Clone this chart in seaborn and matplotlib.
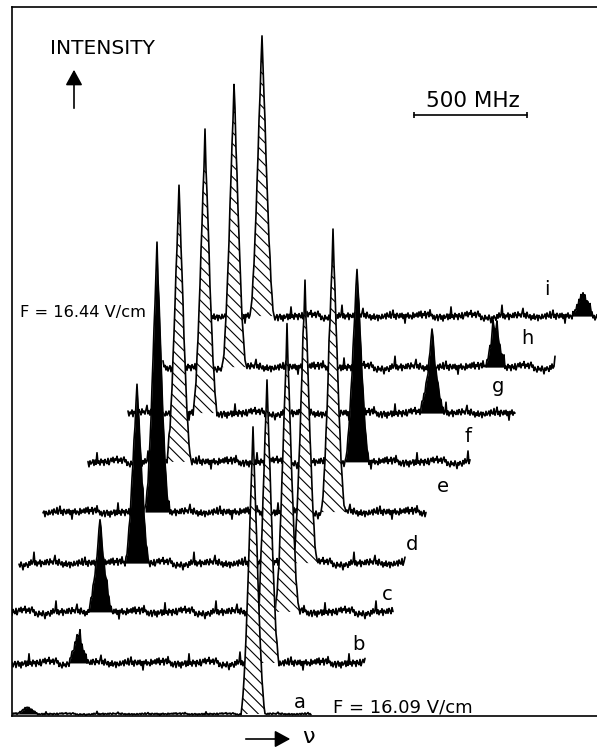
import numpy as np
import pandas as pd
import matplotlib
matplotlib.use("Agg")
import matplotlib.pyplot as plt
import seaborn as sns

# ---------------- data ----------------
traces = ["a", "b", "c", "d", "e", "f", "g", "h", "i"]
# vertical offset of each spectrum baseline (intensity units, hatched peak ~ 100)
offsets = [0.0, 18.1, 36.2, 53.5, 71.6, 89.4, 106.7, 123.0, 141.1]
# frequency span of each recorded trace (MHz, relative)
trace_start = [0, 0, 0, 27, 133, 336, 513, 664, 876]
trace_end = [1327, 1562, 1686, 1739, 1836, 2027, 2226, 2407, 2600]
# hatched resonance
hatched_center = [1066, 1128, 1217, 1297, 1420, 739, 854, 982, 1106]
hatched_height = [102, 101, 101, 100, 100, 99, 99, 100, 100]
# black resonance
black_center = [71, 292, 389, 553, 642, 1527, 1859, 2137, 2527]
black_height = [2.5, 9.9, 33.7, 64.2, 96.5, 69.0, 31.2, 16.0, 7.4]
black_shape = ["broad", "broad", "medium", "sharp", "sharp", "sharp", "medium", "double", "broad"]
noise_scale = [0.3, 1.25, 1.25, 1.25, 1.25, 1.25, 1.25, 1.25, 1.25]
noise_phase = [0, 17, 41, 63, 88, 109, 131, 22, 75]

# line-shape profiles (relative height vs. offset in sample steps)
profiles = {
    "sharp": [1.0, 0.88, 0.78, 0.68, 0.57, 0.46, 0.36, 0.27, 0.19, 0.12, 0.07, 0.03, 0.0],
    "medium": [1.0, 0.85, 0.72, 0.60, 0.50, 0.42, 0.34, 0.27, 0.20, 0.14, 0.08, 0.03, 0.0],
    "broad": [1.0, 0.90, 0.80, 0.70, 0.60, 0.50, 0.40, 0.30, 0.20, 0.12, 0.05, 0.0],
    "double": [0.80, 0.95, 1.0, 0.75, 0.55, 0.45, 0.35, 0.25, 0.15, 0.07, 0.0],
}

# baseline noise pattern (intensity units)
noise = [
    0.9, -0.3, 1.2, 0.0, 1.4, -0.5, 0.7, 0.2, 1.3, -0.6, 0.8, 1.1, -0.2, 1.8, 0.1, 0.5,
    -0.8, 0.2, -1.1, -0.2, 0.4, -1.3, -0.1, 0.5, -0.9, 0.1, -1.4, 0.3, -0.6, -0.2, 0.6, -1.0,
    0.5, -0.7, 2.6, -0.4, 0.3, -0.9, 0.8, -0.2, 0.4, -1.0, 0.7, 0.0, -0.5, 1.0, -0.8, 0.2,
    1.0, 0.1, 1.3, -0.2, 0.9, 0.5, 1.6, -0.3, 0.8, 0.2, 1.1, -0.4, 0.7, 1.4, 0.0, 0.6,
    -1.0, 0.0, -0.7, -1.4, 0.2, -0.8, -0.3, -1.1, 0.3, -0.6, -1.9, -0.2, -0.9, 0.1, -0.5, -1.2,
    0.4, -0.6, 0.9, -0.3, 0.2, 3.1, -0.5, 0.6, -0.8, 0.3, -0.2, 0.9, -1.0, 0.5, 0.1, -0.4,
    0.8, -0.4, 1.0, 0.3, -0.5, 1.2, 0.1, 0.6, -0.3, 0.9, 2.2, -0.2, 0.7, -0.6, 1.1, 0.0,
    -0.5, 0.4, -1.1, 0.1, -0.7, 0.6, -0.9, -0.2, 0.3, -1.3, 0.2, -0.4, -0.8, 0.5, -0.6, -0.1,
    0.6, -0.8, 0.9, 0.0, -0.3, 1.3, -0.6, 0.4, 1.7, -0.4, 0.5, -0.9, 0.8, 0.2, -0.5, 0.7,
    -0.3, 0.8, -0.7, 0.4, -2.0, 0.5, -0.2, 0.9, -0.6, 0.3, 0.0, -0.8, 1.0, -0.4, 0.6, -0.1,
]

field_top = "F = 16.44 V/cm"
field_bottom = "F = 16.09 V/cm"
scale_label = "500 MHz"
scale_mhz = 500

# ---------------- figure ----------------
sns.set_style("white")
plt.rcParams["font.family"] = ["DejaVu Sans"]
plt.rcParams["text.color"] = "black"
plt.rcParams["hatch.linewidth"] = 0.8

W, H = 597, 747
STEP = 500 / 113.0  # MHz per sample


def fx(px):
    return px / W


def fy(py):
    return 1 - py / H


fig = plt.figure(figsize=(W / 100, H / 100), dpi=100)
ax = fig.add_axes([fx(12), fy(716), (W - 12) / W, (716 - 7) / H])
ax.set_xlim(0, (W - 12) * STEP)
ax.set_ylim(-2 / 2.82, (714 - 7) / 2.82)

grid = np.arange(0, 2620, STEP)
n = len(grid)

for t, name in enumerate(traces):
    off = offsets[t]
    y = np.array([noise[(k + noise_phase[t]) % len(noise)] for k in range(n)]) * noise_scale[t]
    # resonances
    hc = int(round(hatched_center[t] / STEP))
    prof = profiles["sharp"]
    for k, v in enumerate(prof):
        for j in {hc - k, hc + k}:
            if 0 <= j < n:
                y[j] += hatched_height[t] * v
    bc = int(round(black_center[t] / STEP))
    prof_b = profiles[black_shape[t]]
    for k, v in enumerate(prof_b):
        for j in {bc - k, bc + k}:
            if 0 <= j < n:
                y[j] += black_height[t] * v
    y = y + off
    sel = (grid >= trace_start[t]) & (grid <= trace_end[t])
    xs = grid[sel]
    ys = y[sel]
    idx = np.arange(n)[sel]
    z = 10 + (len(traces) - t) * 3
    # hide spectra behind
    ax.fill_between(xs, off, ys, color="white", lw=0, zorder=z)
    hmask = np.abs(idx - hc) <= len(prof) - 1
    ax.fill_between(xs, off, ys, where=hmask, facecolor="white", edgecolor="black",
                    hatch="\\\\\\", lw=0, zorder=z + 1)
    bmask = np.abs(idx - bc) <= len(prof_b) - 1
    ax.fill_between(xs, off, ys, where=bmask, color="black", lw=0, zorder=z + 1)
    df = pd.DataFrame({"freq": xs, "intensity": ys})
    sns.lineplot(data=df, x="freq", y="intensity", ax=ax, color="black", lw=1.2,
                 estimator=None, sort=False, zorder=z + 2)

# scale bar
sb_x0 = (414 - 12) * STEP
sb_y = (714 - 115) / 2.82
ax.plot([sb_x0, sb_x0 + scale_mhz], [sb_y, sb_y], color="black", lw=1.2,
        marker="|", markersize=5, markeredgewidth=1.2, zorder=50)

ax.set_xlabel("")
ax.set_ylabel("")
ax.set_xticks([])
ax.set_yticks([])
for side in ["left", "top", "bottom"]:
    ax.spines[side].set_color("black")
    ax.spines[side].set_linewidth(1.2)
ax.spines["right"].set_visible(False)

# texts
fig.text(fx(102), fy(48), "INTENSITY", ha="center", va="center", fontsize=14.5)
fig.text(fx(473), fy(101), scale_label, ha="center", va="center", fontsize=15.5)
fig.text(fx(20), fy(312), field_top, ha="left", va="center", fontsize=11.7)
fig.text(fx(333), fy(708), field_bottom, ha="left", va="center", fontsize=13)
label_pos = [(300, 702), (358, 645), (387, 594), (412, 544), (443, 487),
             (468, 437), (498, 387), (527, 338), (547, 290)]
for name, (px, py) in zip(traces, label_pos):
    fig.text(fx(px), fy(py), name, ha="center", va="center", fontsize=14)

# arrows
fig.patches.append(matplotlib.patches.FancyArrowPatch(
    (fx(74), fy(111)), (fx(74), fy(67)), transform=fig.transFigure,
    arrowstyle="-|>,head_length=0.55,head_width=0.3", mutation_scale=17,
    color="black", lw=1.2))
fig.patches.append(matplotlib.patches.FancyArrowPatch(
    (fx(243), fy(739)), (fx(293), fy(739)), transform=fig.transFigure,
    arrowstyle="-|>,head_length=0.55,head_width=0.3", mutation_scale=17,
    color="black", lw=1.2))
fig.text(fx(308), fy(737), "ν", ha="center", va="center", fontsize=16)

fig.savefig("out.png", dpi=100)
